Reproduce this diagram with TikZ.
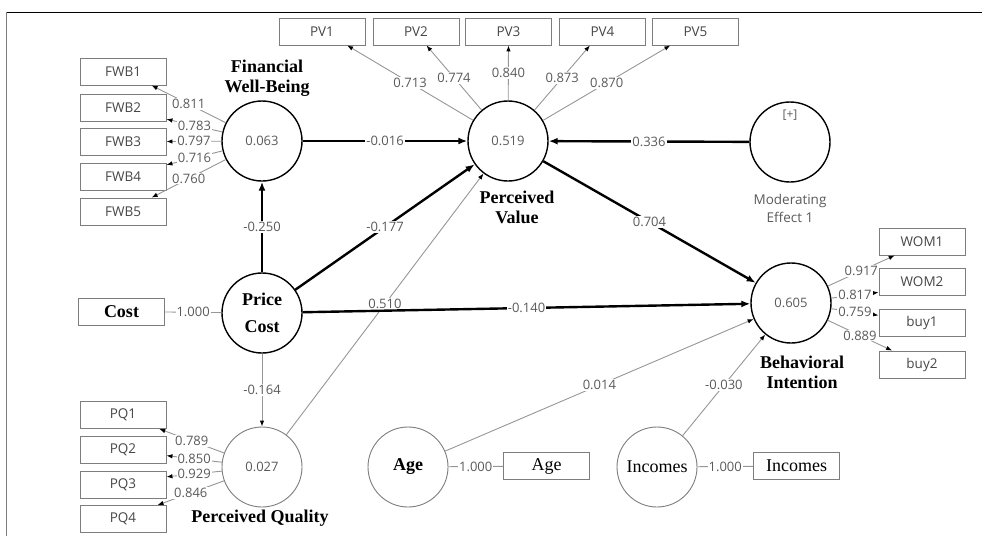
\documentclass[tikz,border=0pt]{standalone}
\usepackage{fontspec}
\setmainfont{Liberation Serif}
\newfontfamily\sansf{Open Sans}
\usetikzlibrary{arrows.meta,calc,positioning}
\definecolor{numgray}{RGB}{90,90,90}
\definecolor{txtgray}{RGB}{70,70,70}
\definecolor{boxgray}{RGB}{125,125,125}
\definecolor{linegray}{RGB}{150,150,150}

\begin{document}
\begin{tikzpicture}[x=1pt,y=-1pt,
    lv/.style={circle,draw,line width=1.4pt,minimum size=80pt,inner sep=0pt,font=\sansf\fontsize{13}{15}\selectfont,text=numgray},
    lvlight/.style={lv,draw=boxgray,line width=0.9pt},
    ind/.style={draw=boxgray,line width=0.9pt,minimum width=86pt,minimum height=27pt,inner sep=0pt,font=\sansf\fontsize{13.5}{15}\selectfont,text=txtgray},
    serifbox/.style={ind,font=\fontsize{18}{20}\selectfont,text=black},
    lvname/.style={font=\bfseries\fontsize{18}{20}\selectfont,align=center},
    coef/.style={fill=white,inner sep=1pt,font=\sansf\fontsize{13}{15}\selectfont,text=numgray},
    pathline/.style={line width=2.4pt,-{Latex[length=9pt,width=7pt]}},
    loadline/.style={draw=linegray,line width=0.9pt,-{Latex[length=6pt,width=4.5pt,color=black]}},
    fixline/.style={draw=linegray,line width=0.9pt}]
  \useasboundingbox (0,0) rectangle (982,536);
  % frame
  \draw[line width=0.8pt] (982,12) -- (6,12);
  \draw[boxgray,line width=0.8pt] (6,12) -- (6,536);
  % latent variables
  \draw
  (262,141) node[lv](FWB) {0.063}
  (508,141) node[lv](PV) {0.519}
  (790,142) node[lv](MOD) {}
  (262,313) node[lv,font=\bfseries\fontsize{18}{20}\selectfont,text=black,align=center](PC) {Price\\[7pt]Cost}
  (262,467) node[lvlight](PQ) {0.027}
  (791,303) node[lv](BI) {0.605}
  (408,467) node[lvlight,font=\bfseries\fontsize{18}{20}\selectfont,text=black](AGE) {Age}
  (657,467) node[lvlight,font=\fontsize{18}{20}\selectfont,text=black](INC) {Incomes};
  % names
  \draw
  (267,78) node[lvname](FWBname) {Financial\\Well-Being}
  (517,207) node[lvname](PVname) {Perceived\\Value}
  (260,518) node[lvname](PQname) {Perceived Quality}
  (802,372) node[lvname](BIname) {Behavioral\\Intention}
  (790,115) node[font=\sansf\fontsize{12}{14}\selectfont,text=numgray](MODtag) {[+]}
  (790,208) node[font=\sansf\fontsize{13.5}{18}\selectfont,text=numgray,align=center](MODname) {Moderating\\Effect 1};
  % indicators
  \draw
  (123,71.5) node[ind](FWB1) {FWB1}
  (123,107.5) node[ind](FWB2) {FWB2}
  (123,141.5) node[ind](FWB3) {FWB3}
  (123,176.5) node[ind](FWB4) {FWB4}
  (123,211.5) node[ind](FWB5) {FWB5}
  (322,31.5) node[ind](PV1) {PV1}
  (416,31.5) node[ind](PV2) {PV2}
  (508.5,31.5) node[ind](PV3) {PV3}
  (602.5,31.5) node[ind](PV4) {PV4}
  (695.5,31.5) node[ind](PV5) {PV5}
  (123,415) node[ind](PQ1) {PQ1}
  (123,449.5) node[ind](PQ2) {PQ2}
  (123,484.5) node[ind](PQ3) {PQ3}
  (123,519) node[ind](PQ4) {PQ4}
  (922,241.5) node[ind](WOM1) {WOM1}
  (922,281.5) node[ind](WOM2) {WOM2}
  (922,323) node[ind](buy1) {buy1}
  (922,364.5) node[ind](buy2) {buy2}
  (121.5,311.5) node[serifbox,font=\bfseries\fontsize{18}{20}\selectfont](Cost) {Cost}
  (546.5,466) node[serifbox](Agebox) {Age}
  (796.5,466) node[serifbox](Incbox) {Incomes};
  % outer loadings
  \draw
  (FWB) edge[loadline] node[coef]{0.811} (FWB1.-26)
  (FWB) edge[loadline] node[coef]{0.783} (FWB2.-15)
  (FWB) edge[loadline] node[coef]{0.797} (FWB3.east)
  (FWB) edge[loadline] node[coef]{0.716} (FWB4.15)
  (FWB) edge[loadline] node[coef]{0.760} (FWB5.26)
  (PV) edge[loadline] node[coef]{0.713} (PV1.-29)
  (PV) edge[loadline] node[coef]{0.774} (PV2.-53)
  (PV) edge[loadline] node[coef]{0.840} (PV3.south)
  (PV) edge[loadline] node[coef]{0.873} (PV4.228)
  (PV) edge[loadline] node[coef]{0.870} (PV5.209)
  (PQ) edge[loadline] node[coef]{0.789} (PQ1.-21)
  (PQ) edge[loadline] node[coef]{0.850} (PQ2.-8)
  (PQ) edge[loadline] node[coef]{0.929} (PQ3.10)
  (PQ) edge[loadline] node[coef]{0.846} (PQ4.22)
  (BI) edge[loadline] node[coef]{0.917} (WOM1.207)
  (BI) edge[loadline] node[coef]{0.817} (WOM2.194)
  (BI) edge[loadline] node[coef]{0.759} (buy1.170)
  (BI) edge[loadline] node[coef]{0.889} (buy2.155)
  (Cost) edge[fixline] node[coef]{1.000} (PC)
  (AGE) edge[fixline] node[coef]{1.000} (Agebox)
  (INC) edge[fixline] node[coef]{1.000} (Incbox);
  % inner model
  \draw
  (PQ) edge[loadline] node[coef]{0.510} (PV)
  (PC) edge[loadline] node[coef]{-0.164} (PQ)
  (AGE) edge[loadline] node[coef]{0.014} (BI)
  (INC) edge[loadline] node[coef]{-0.030} (BI)
  (FWB) edge[pathline] node[coef]{-0.016} (PV)
  (MOD) edge[pathline] node[coef]{0.336} (PV)
  (PC) edge[pathline] node[coef]{-0.250} (FWB)
  (PC) edge[pathline] node[coef]{-0.177} (PV)
  (PC) edge[pathline] node[coef]{-0.140} (BI)
  (PV) edge[pathline] node[coef]{0.704} (BI);
\end{tikzpicture}
\end{document}
